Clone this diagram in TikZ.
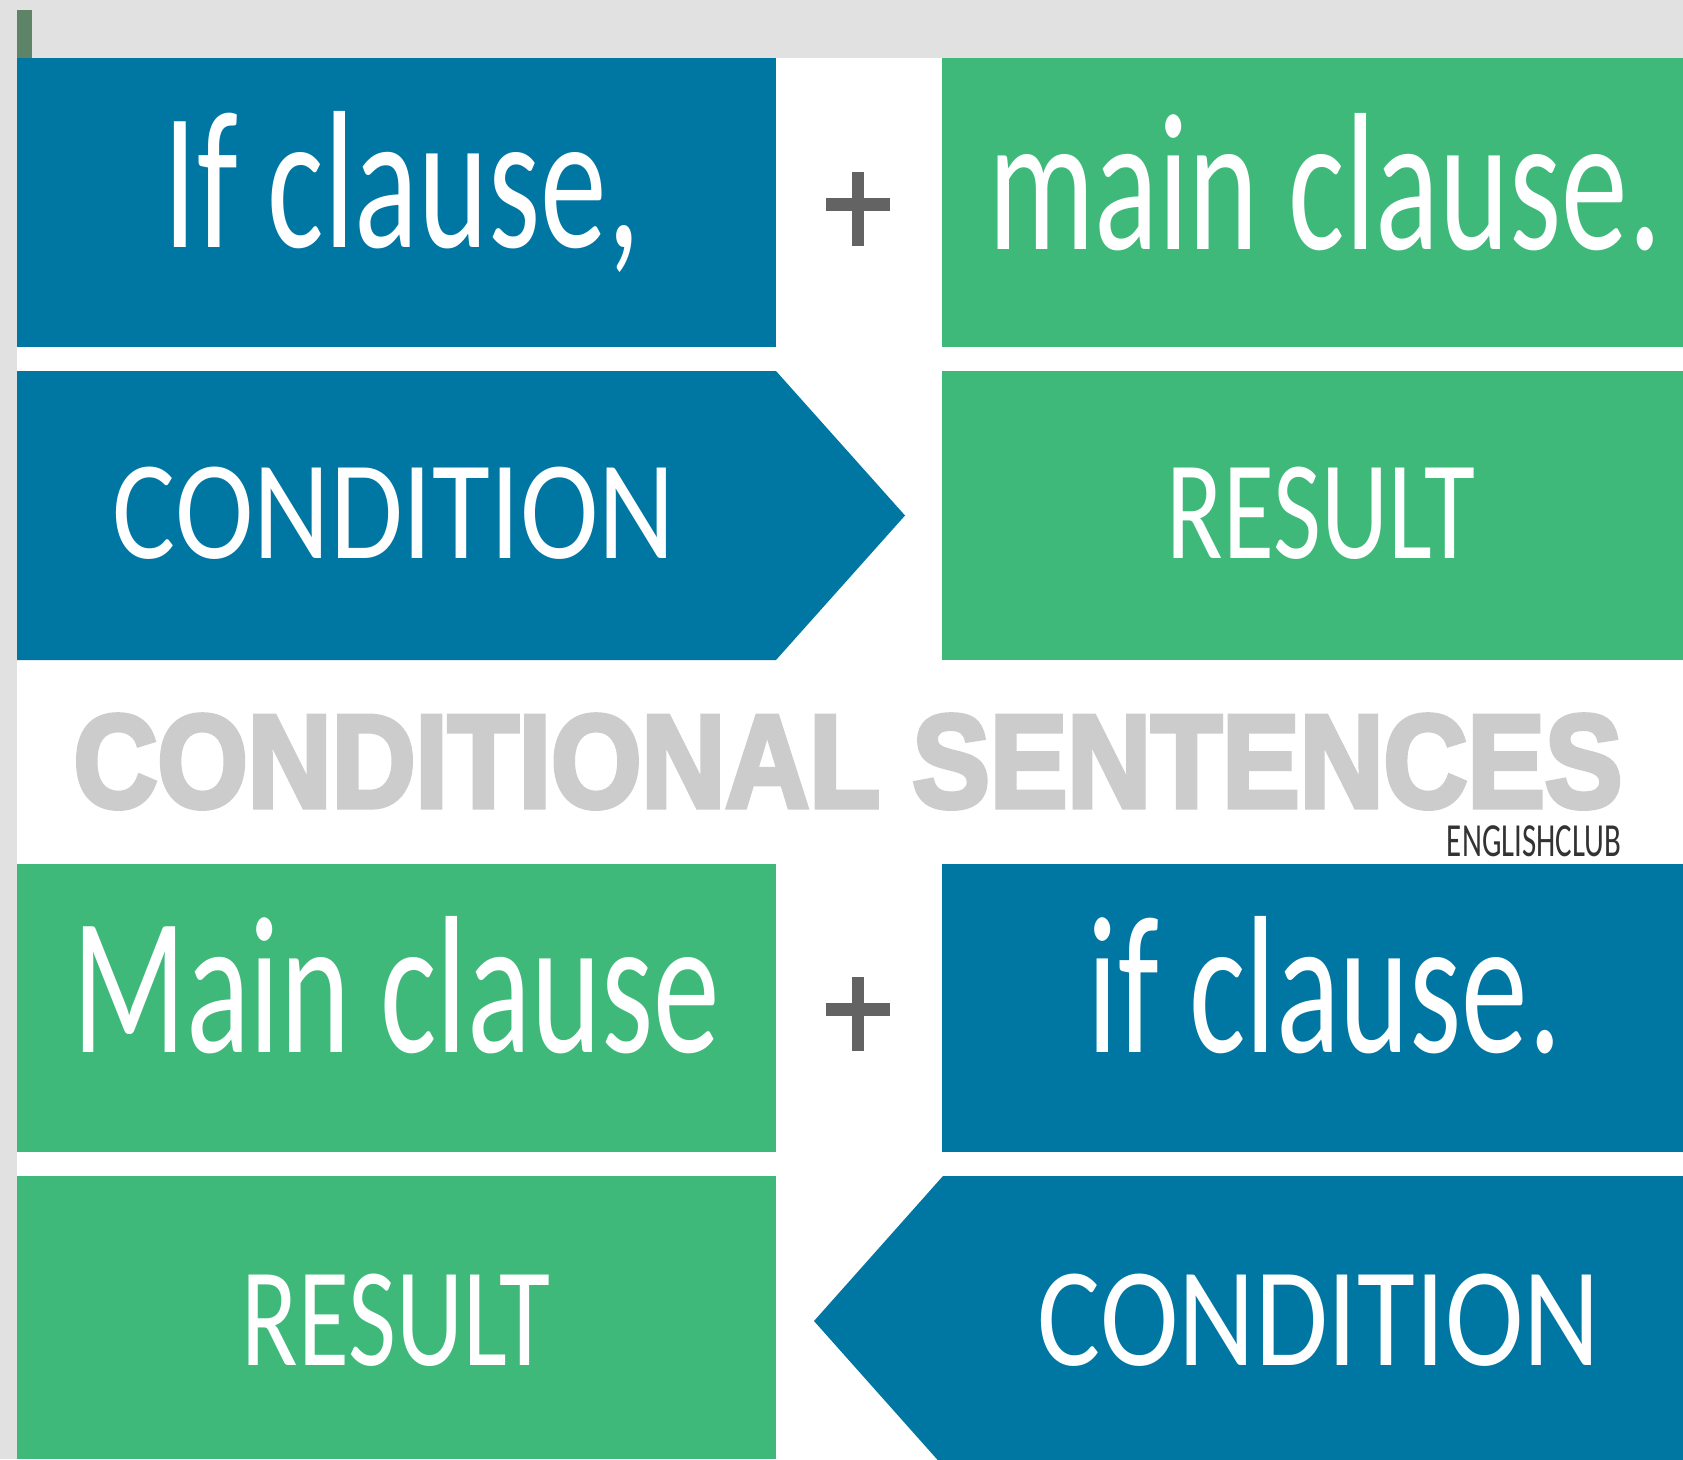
\documentclass[tikz,border=0pt]{standalone}
\usepackage{fontspec}
\setmainfont{Carlito}
\newfontfamily\titlefont[FakeBold=4]{Liberation Sans}
\usetikzlibrary{positioning}
\definecolor{ecblue}{RGB}{0,119,163}
\definecolor{ecgreen}{RGB}{62,185,122}
\definecolor{titlegray}{RGB}{204,204,204}
\definecolor{plusgray}{RGB}{99,99,99}
\definecolor{bggray}{RGB}{225,225,225}
\definecolor{barcol}{RGB}{94,132,104}
\newcommand{\squeeze}[2]{\scalebox{#1}[1]{#2}}
\tikzset{
  bigtext/.style={text=white,font=\fontsize{196}{196}\selectfont,anchor=base,inner sep=0pt},
  captext/.style={text=white,font=\fontsize{141}{141}\selectfont,anchor=base,inner sep=0pt},
  titletext/.style={text=titlegray,font=\titlefont\bfseries\fontsize{132}{132}\selectfont,anchor=base,inner sep=0pt},
  clubtext/.style={text=black!80,font=\fontsize{47.5}{47.5}\selectfont,anchor=base,inner sep=0pt}
}

\begin{document}
\begin{tikzpicture}[x=1pt,y=-1pt]
\clip (0,0) rectangle (1683,1459);
\fill[bggray] (0,0) rectangle (1683,1459);
\fill[white] (17,58) rectangle (1683,1459);
\fill[barcol] (17,10) rectangle (32,58);
% top half
\fill[ecblue] (17,58) rectangle (776,347);
\fill[ecgreen] (942,58) rectangle (1683,347);
\fill[ecblue] (17,371) -- (776,371) -- (905,515.5) -- (776,660) -- (17,660) -- cycle;
\fill[ecgreen] (942,371) rectangle (1683,660);
% bottom half
\fill[ecgreen] (17,864) rectangle (776,1152);
\fill[ecblue] (942,864) rectangle (1683,1152);
\fill[ecgreen] (17,1176) rectangle (776,1459);
\fill[ecblue] (1683,1176) -- (943,1176) -- (814,1321) -- (943,1466) -- (1683,1466) -- cycle;
\foreach \y in {204,1009}
{
\fill[plusgray,shift={(858,\y)}] (-32,-6.5) rectangle (32,6.5);
\fill[plusgray,shift={(858,\y)}] (-6,-32) rectangle (6,42);
}
\node[bigtext] (ifcl) at (402,247) {\squeeze{0.68}{If clause,}};
\node[bigtext] (maincl) at (1325,249) {\squeeze{0.68}{main clause.}};
\node[captext] (cond) at (394,558) {\squeeze{0.84}{CONDITION}};
\node[captext] (res) at (1321,558) {\squeeze{0.74}{RESULT}};
\node[titletext] (title) at (848,807) {\squeeze{0.88}{CONDITIONAL SENTENCES}};
\node[clubtext] (club) at (1534,856) {\squeeze{0.65}{ENGLISHCLUB}};
\node[bigtext] (maincltwo) at (396,1052) {\squeeze{0.68}{Main clause}};
\node[bigtext] (ifcltwo) at (1325,1052) {\squeeze{0.68}{if clause.}};
\node[captext] (restwo) at (396,1365) {\squeeze{0.74}{RESULT}};
\node[captext] (condtwo) at (1319,1365) {\squeeze{0.84}{CONDITION}};
\end{tikzpicture}
\end{document}
